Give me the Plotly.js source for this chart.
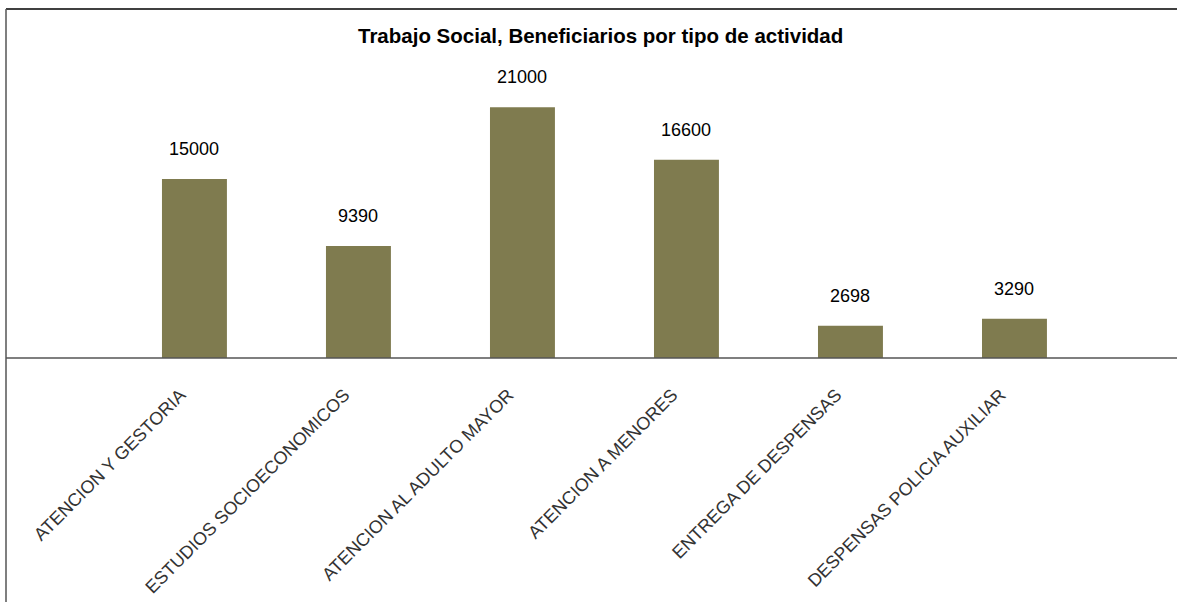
<!DOCTYPE html>
<html>
<head>
<meta charset="utf-8">
<script src="https://cdn.plot.ly/plotly-3.0.1.min.js"></script>
<style>html,body{margin:0;padding:0;background:#fff;}#chart{width:1177px;height:602px;}</style>
</head>
<body>
<div id="chart"></div>
<script>
const categories = ["ATENCION Y GESTORIA", "ESTUDIOS SOCIOECONOMICOS", "ATENCION AL ADULTO MAYOR", "ATENCION A MENORES", "ENTREGA DE DESPENSAS", "DESPENSAS POLICIA AUXILIAR"];
const values = [15000, 9390, 21000, 16600, 2698, 3290];
const titleText = "Trabajo Social, Beneficiarios por tipo de actividad";

const FONT = '"Liberation Sans Narrow", "Arial Narrow", "Liberation Sans", Arial, sans-serif';
const idx = categories.map((c, i) => i);

const trace = {
  type: 'bar',
  x: idx,
  y: values,
  width: 0.396,
  marker: {color: '#7f7b4f', line: {width: 0}},
  hoverinfo: 'x+y'
};

const annotations = idx.map(i => ({
  x: i, y: values[i], xref: 'x', yref: 'y',
  text: String(values[i]),
  showarrow: false, yanchor: 'bottom', yshift: 18,
  font: {family: FONT, size: 18, color: '#000'}
}));
annotations.push({
  xref: 'paper', yref: 'paper', x: (600 - 6) / 1171, y: 1 - (36 - 9) / 349,
  text: '<b>' + titleText + '</b>', showarrow: false,
  xanchor: 'center', yanchor: 'middle',
  font: {family: FONT, size: 20.5, color: '#000'}
});

const layout = {
  width: 1177, height: 602,
  margin: {l: 6, r: 0, t: 9, b: 244, pad: 0},
  paper_bgcolor: '#fff', plot_bgcolor: '#fff',
  showlegend: false,
  xaxis: {
    range: [-1.149, 5.991],
    tickmode: 'array', tickvals: idx, ticktext: categories,
    tickangle: -45,
    ticks: '', showgrid: false, zeroline: false,
    showline: false,
    ticklabelstandoff: 22,
    ticklabelshift: -14,
    tickfont: {family: FONT, size: 18, color: '#333'}
  },
  yaxis: {
    range: [0, 29229],
    visible: false, showgrid: false, zeroline: false
  },
  annotations: annotations,
  shapes: [
    {type: 'line', xref: 'paper', yref: 'paper', x0: 0, x1: 1, y0: 0, y1: 0, line: {color: '#555', width: 1.5}},
    {type: 'line', xref: 'paper', yref: 'paper', x0: 0, x1: 1, y0: 1, y1: 1, line: {color: '#000', width: 1.5}},
    {type: 'line', xref: 'paper', yref: 'paper', x0: 0, x1: 0, y0: 1, y1: -0.7, line: {color: '#555', width: 1.5}}
  ]
};

Plotly.newPlot('chart', [trace], layout, {displayModeBar: false, staticPlot: true});
</script>
</body>
</html>
